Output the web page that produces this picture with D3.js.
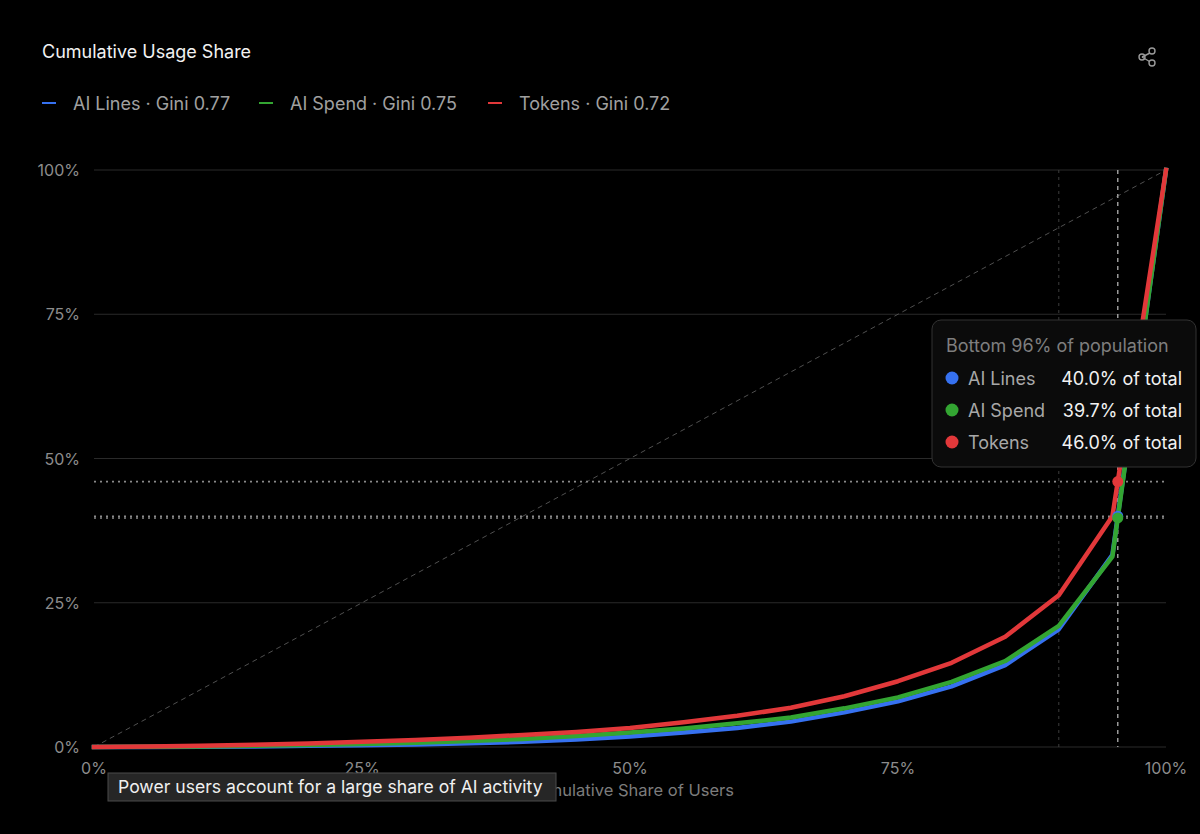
<!DOCTYPE html>
<html><head><meta charset="utf-8">
<script src="https://cdn.jsdelivr.net/npm/d3@7"></script>
<style>
html,body{margin:0;padding:0;background:#000;}
body{width:1200px;height:834px;overflow:hidden;font-family:Inter,"Noto Sans",sans-serif;}
</style></head>
<body>
<svg id="chart" width="1200" height="834"></svg>
<script>
const xValues = [0,5,10,15,20,25,30,35,40,45,50,55,60,65,70,75,80,85,90,95,100];
const aiLines = [0,0.02,0.05,0.1,0.2,0.3,0.45,0.65,0.9,1.3,1.8,2.5,3.3,4.4,6.0,7.9,10.5,14.2,20.4,33.3,100];
const aiSpend = [0,0.05,0.1,0.2,0.35,0.5,0.75,1.05,1.4,1.9,2.5,3.2,4.1,5.1,6.7,8.6,11.3,14.9,21.0,33.0,100];
const tokens  = [0,0.1,0.2,0.4,0.6,0.9,1.2,1.6,2.1,2.6,3.3,4.3,5.4,6.8,8.8,11.4,14.6,19.1,26.3,40.0,100];
const seriesNames = ["AI Lines","AI Spend","Tokens"];
const giniValues = ["0.77","0.75","0.72"];
const seriesColors = ["#3671f0","#33a532","#e2383a"];
const yTicks = [0,25,50,75,100];
const xTicks = [0,25,50,75,100];
const hoverX = 95.5;
const hoverLabel = "Bottom 96% of population";
const hoverValues = [40.0,39.7,46.0];
const refX = 90;

const svg = d3.select("#chart");
const x = d3.scaleLinear().domain([0,100]).range([94,1166]);
const y = d3.scaleLinear().domain([0,100]).range([747,170]);
const fmt = d => d + "%";

// title
svg.append("text").attr("x",42).attr("y",58).attr("fill","#f2f2f2")
  .attr("font-size",18).text("Cumulative Usage Share");

// share icon
const ic = svg.append("g").attr("stroke","#9a9a9a").attr("stroke-width",1.4).attr("fill","none");
ic.append("line").attr("x1",1142).attr("y1",57).attr("x2",1152).attr("y2",52);
ic.append("line").attr("x1",1142).attr("y1",57).attr("x2",1152).attr("y2",63);
ic.append("circle").attr("cx",1142).attr("cy",57).attr("r",3);
ic.append("circle").attr("cx",1152).attr("cy",51).attr("r",3).attr("fill","#000");
ic.append("circle").attr("cx",1152).attr("cy",63).attr("r",3).attr("fill","#000");

// legend
const legX = [42,259,488];
seriesNames.forEach((n,i)=>{
  const g = svg.append("g").attr("transform",`translate(${legX[i]},103)`);
  g.append("line").attr("x1",0).attr("x2",14).attr("y1",0).attr("y2",0)
    .attr("stroke",seriesColors[i]).attr("stroke-width",2);
  g.append("text").attr("x",31).attr("y",6.5).attr("fill","#a0a0a0")
    .attr("font-size",18).text(`${n} · Gini ${giniValues[i]}`);
});

// grid
svg.append("g").selectAll("line").data(yTicks).join("line")
  .attr("x1",94).attr("x2",1166).attr("y1",d=>y(d)).attr("y2",d=>y(d))
  .attr("stroke","#2a2a2a").attr("stroke-width",1);

// y labels
svg.append("g").selectAll("text").data(yTicks).join("text")
  .attr("x",80).attr("y",d=>y(d)+6).attr("text-anchor","end")
  .attr("fill","#8c8c8c").attr("font-size",16).text(fmt);

// x labels
svg.append("g").selectAll("text").data(xTicks).join("text")
  .attr("x",d=>x(d)).attr("y",774).attr("text-anchor","middle")
  .attr("fill","#8c8c8c").attr("font-size",16).text(fmt);

svg.append("text").attr("x",630).attr("y",796).attr("text-anchor","middle")
  .attr("fill","#7c7c7c").attr("font-size",16.5).text("Cumulative Share of Users");

// diagonal equality line
svg.append("line").attr("x1",x(0)).attr("y1",y(0)).attr("x2",x(100)).attr("y2",y(100))
  .attr("stroke","#505050").attr("stroke-width",1).attr("stroke-dasharray","5,4");

// reference vertical at 90%
svg.append("line").attr("x1",x(refX)).attr("x2",x(refX)).attr("y1",y(100)).attr("y2",y(0))
  .attr("stroke","#3e3e3e").attr("stroke-width",1).attr("stroke-dasharray","3,4");

// crosshair vertical
svg.append("line").attr("x1",x(hoverX)).attr("x2",x(hoverX)).attr("y1",y(100)).attr("y2",y(0))
  .attr("stroke","#9a9a9a").attr("stroke-width",1.5).attr("stroke-dasharray","4,4");

// horizontal crosshair lines
svg.append("g").selectAll("line").data(hoverValues).join("line")
  .attr("x1",94).attr("x2",1166).attr("y1",d=>y(d)).attr("y2",d=>y(d))
  .attr("stroke","#8a8a8a").attr("stroke-width",1.6).attr("stroke-dasharray","2,4");

// lines
const allSeries = [aiLines, aiSpend, tokens];
const line = d3.line().x((d,i)=>x(xValues[i])).y(d=>y(d));
allSeries.forEach((s,i)=>{
  svg.append("path").datum(s).attr("d",line).attr("fill","none")
    .attr("stroke",seriesColors[i]).attr("stroke-width",4.5)
    .attr("stroke-linejoin","round").attr("stroke-linecap","square");
});

// markers
hoverValues.forEach((v,i)=>{
  svg.append("circle").attr("cx",x(hoverX)).attr("cy",y(v)).attr("r",5.5)
    .attr("fill",seriesColors[i]);
});

// tooltip
const tt = svg.append("g").attr("transform","translate(932,320)");
tt.append("rect").attr("width",264).attr("height",147).attr("rx",9)
  .attr("fill","#0b0b0b").attr("stroke","#333").attr("stroke-width",1);
tt.append("text").attr("x",14).attr("y",32).attr("fill","#7e7e7e").attr("font-size",18).text(hoverLabel);
seriesNames.forEach((n,i)=>{
  const cy = 58 + i*32;
  tt.append("circle").attr("cx",20).attr("cy",cy).attr("r",6.5).attr("fill",seriesColors[i]);
  tt.append("text").attr("x",36).attr("y",cy+6.5).attr("fill","#a8a8a8").attr("font-size",18).text(n);
  tt.append("text").attr("x",250).attr("y",cy+6.5).attr("text-anchor","end").attr("fill","#f2f2f2")
    .attr("font-size",18).text(hoverValues[i].toFixed(1) + "% of total");
});

// browser title tooltip
const bt = svg.append("g").attr("transform","translate(108,773)");
bt.append("rect").attr("width",448).attr("height",28).attr("fill","#262626")
  .attr("stroke","#4a4a4a").attr("stroke-width",1);
bt.append("text").attr("x",10).attr("y",20).attr("fill","#f0f0f0").attr("font-size",17.6)
  .text("Power users account for a large share of AI activity");
</script>
</body></html>
